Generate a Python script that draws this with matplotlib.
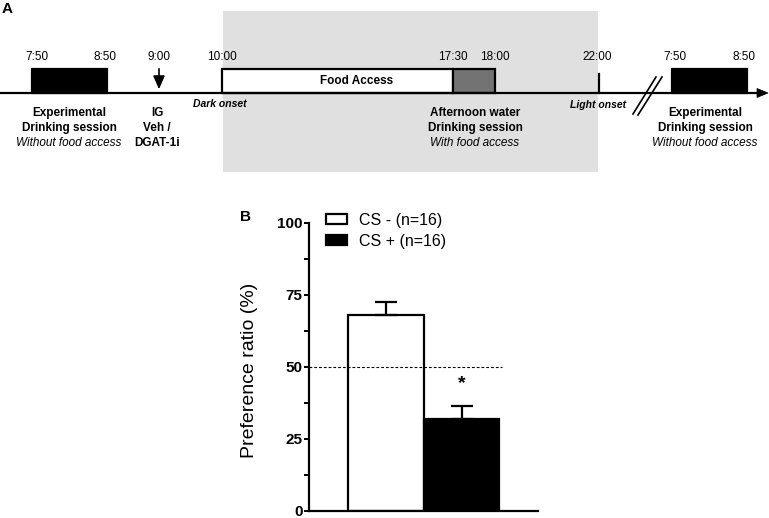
import matplotlib
matplotlib.use("Agg")
import matplotlib.pyplot as plt
from matplotlib.patches import Rectangle, Polygon

plt.rcParams['font.family'] = ['Liberation Sans', 'DejaVu Sans']

# ---------------- data ----------------
groups = ["CS - (n=16)", "CS + (n=16)"]
pref_mean = [68.0, 32.0]
pref_sem = [4.5, 4.3]
bar_colors = ["white", "black"]
yticks_major = [0, 25, 50, 75, 100]
yticks_minor = [12.5, 37.5, 62.5, 87.5]
chance_level = 50
signif = ["", "*"]

time_labels = ["7:50", "8:50", "9:00", "10:00", "17:30", "18:00", "22:00", "7:50", "8:50"]

# ---------------- figure ----------------
W, H = 769, 518
fig = plt.figure(figsize=(W / 100, H / 100), dpi=100)

# timeline panel drawn in pixel coordinates
tl = fig.add_axes([0, 0, 1, 1])
tl.set_xlim(0, W)
tl.set_ylim(H, 0)
tl.axis("off")

lw = 1.6
base_y = 93
top_y = 69

# grey night region
tl.add_patch(Rectangle((223, 11), 598 - 223, 172 - 11, facecolor="#e0e0e0", edgecolor="none", zorder=0))

# baseline + arrow
tl.plot([0, 759], [base_y, base_y], color="black", lw=lw, zorder=3, solid_capstyle="butt")
tl.add_patch(Polygon([[757, base_y - 4.5], [768, base_y], [757, base_y + 4.5]], closed=True,
                     facecolor="black", edgecolor="black", lw=0.5, zorder=3))

# boxes
tl.add_patch(Rectangle((32, top_y), 107 - 32, base_y - top_y, facecolor="black", edgecolor="black", lw=lw, zorder=2))
tl.add_patch(Rectangle((222, top_y), 453 - 222, base_y - top_y, facecolor="white", edgecolor="black", lw=lw, zorder=2))
tl.add_patch(Rectangle((453, top_y), 495 - 453, base_y - top_y, facecolor="#737373", edgecolor="black", lw=lw, zorder=2))
tl.add_patch(Rectangle((672, top_y), 747 - 672, base_y - top_y, facecolor="black", edgecolor="black", lw=lw, zorder=2))

# 22:00 tick
tl.plot([599, 599], [74, base_y], color="black", lw=lw, zorder=3)

# 9:00 arrow
tl.annotate("", xy=(159, base_y - 1), xytext=(159, 66),
            arrowprops=dict(arrowstyle="-|>,head_length=0.8,head_width=0.35", color="black", lw=1.2), zorder=4)

# break marks
tl.plot([633, 656], [114, 77], color="black", lw=1.2, zorder=4)
tl.plot([638, 662], [115, 77], color="black", lw=1.2, zorder=4)

# time labels
time_x = [37, 105, 159, 222, 453, 495, 597, 675, 744]
for lab, x in zip(time_labels, time_x):
    tl.text(x, 57, lab, ha="center", va="center", fontsize=8.5)

tl.text(357, 81, "Food Access", ha="center", va="center", fontsize=8.5, fontweight="bold")

fs = 8.5
def block(x, lines):
    ys = [113, 128, 143]
    for (txt, style), y in zip(lines, ys):
        kw = dict(fontweight="bold") if style == "b" else dict(style="italic")
        tl.text(x, y, txt, ha="center", va="center", fontsize=fs, **kw)

block(69, [("Experimental", "b"), ("Drinking session", "b"), ("Without food access", "i")])
block(157, [("IG", "b"), ("Veh /", "b"), ("DGAT-1i", "b")])
block(475, [("Afternoon water", "b"), ("Drinking session", "b"), ("With food access", "i")])
block(705, [("Experimental", "b"), ("Drinking session", "b"), ("Without food access", "i")])

tl.text(220, 104, "Dark onset", ha="center", va="center", fontsize=7.5, fontweight="bold", style="italic")
tl.text(598, 105, "Light onset", ha="center", va="center", fontsize=7.5, fontweight="bold", style="italic")

tl.text(2, 9, "A", ha="left", va="center", fontsize=11, fontweight="bold")
tl.text(240, 217, "B", ha="left", va="center", fontsize=11, fontweight="bold")

# ---------------- bar panel ----------------
ax_l, ax_r, ax_t, ax_b = 309, 538, 223, 511
ax = fig.add_axes([ax_l / W, (H - ax_b) / H, (ax_r - ax_l) / W, (ax_b - ax_t) / H])
ax.patch.set_alpha(0)

xpos = [0, 1]
bars = ax.bar(xpos, pref_mean, width=1.0, color=bar_colors, edgecolor="black", linewidth=1.6,
              zorder=2)
for x, m, s in zip(xpos, pref_mean, pref_sem):
    ax.errorbar([x], [m], yerr=[[0], [s]], fmt="none", ecolor="black", elinewidth=1.6,
                capsize=8, capthick=1.6, zorder=3)
for x, m, s, t in zip(xpos, pref_mean, pref_sem, signif):
    if t:
        ax.text(x, m + s + 8, t, ha="center", va="center", fontsize=14, fontweight="bold")

ax.plot([-1.02, 1.54], [chance_level, chance_level], color="black", lw=0.8, ls=(0, (2.5, 1.8)), zorder=4)

ax.set_xlim(-1.02, 2.01)
ax.set_ylim(0, 100)
ax.set_yticks(yticks_major)
ax.set_yticks(yticks_minor, minor=True)
ax.set_yticklabels([str(v) for v in yticks_major], fontweight="bold", fontsize=11)
ax.set_xticks([])
for sp in ["top", "right"]:
    ax.spines[sp].set_visible(False)
for sp in ["left", "bottom"]:
    ax.spines[sp].set_linewidth(1.6)
ax.tick_params(axis="y", which="both", length=3.5, width=1.4, pad=1)
ax.spines["left"].set_bounds(0, 100)

ax.set_ylabel("Preference ratio (%)", fontsize=14)
ax.yaxis.set_label_coords(-0.26, 0.49)
ax.yaxis.label.set_va("center")

leg = ax.legend(bars, groups, loc="upper left", bbox_to_anchor=((326 - ax_l) / (ax_r - ax_l), 1.035),
                frameon=False, fontsize=11.5, handlelength=1.3, handleheight=0.6,
                handletextpad=0.75, labelspacing=0.35, borderaxespad=0, borderpad=0)

fig.savefig("out.png", dpi=100)
